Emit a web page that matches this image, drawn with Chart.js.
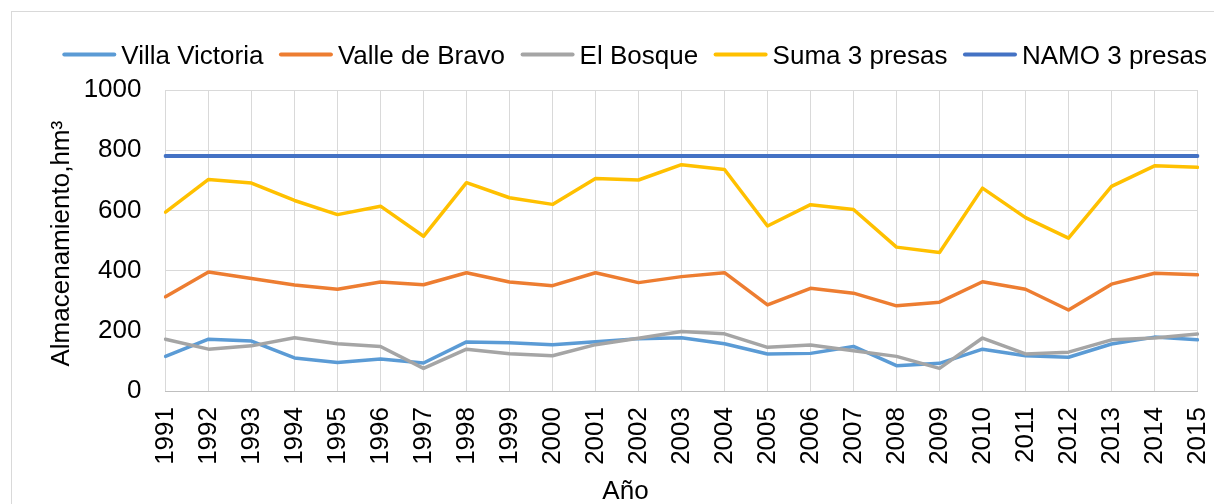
<!DOCTYPE html>
<html>
<head>
<meta charset="utf-8">
<script src="https://cdn.jsdelivr.net/npm/chart.js@4.4.1/dist/chart.umd.min.js"></script>
<style>
  html, body { margin: 0; padding: 0; background: #fff; }
  canvas { display: block; }
</style>
</head>
<body>
<canvas id="chartStorage" width="1214" height="504"></canvas>
<script>
const years = ['1991', '1992', '1993', '1994', '1995', '1996', '1997', '1998', '1999', '2000',
  '2001', '2002', '2003', '2004', '2005', '2006', '2007', '2008', '2009', '2010',
  '2011', '2012', '2013', '2014', '2015'];

const villaVictoria = [115, 172, 166, 110, 95, 106, 93, 163, 160, 154, 164, 174, 177, 157, 123, 125, 148, 84, 92, 139, 117, 112, 156, 179, 170];
const valleDeBravo = [313, 395, 374, 352, 338, 362, 353, 393, 362, 350, 393, 360, 380, 393, 286, 341, 325, 283, 295, 363, 338, 269, 355, 391, 386];
const elBosque = [172, 139, 150, 177, 157, 148, 75, 139, 124, 117, 154, 175, 198, 190, 145, 153, 134, 115, 75, 176, 123, 129, 170, 176, 189];
const suma3Presas = [594, 703, 691, 633, 586, 614, 514, 692, 642, 620, 706, 701, 752, 736, 548, 619, 603, 478, 460, 674, 576, 508, 680, 748, 743];
const namo3Presas = [781, 781, 781, 781, 781, 781, 781, 781, 781, 781, 781, 781, 781, 781, 781, 781, 781, 781, 781, 781, 781, 781, 781, 781, 781];

const yTicks = [0, 200, 400, 600, 800, 1000];
const xTitle = 'Año';
const yTitle = 'Almacenamiento,hm³';

const FONT = '"Liberation Sans", Arial, sans-serif';

// background, outer frame, legend and axis titles
const extras = {
  id: 'extras',
  beforeDraw(chart) {
    const ctx = chart.ctx;
    ctx.save();
    ctx.fillStyle = '#ffffff';
    ctx.fillRect(0, 0, chart.width, chart.height);
    ctx.strokeStyle = '#d9d9d9';
    ctx.lineWidth = 1;
    ctx.strokeRect(11.5, 11.5, chart.width + 40, chart.height + 40);
    ctx.restore();
  },
  afterDraw(chart) {
    const ctx = chart.ctx;
    ctx.save();
    ctx.font = '26px ' + FONT;
    ctx.fillStyle = '#000000';
    ctx.textBaseline = 'alphabetic';
    ctx.textAlign = 'left';

    let x = 62.3;
    chart.data.datasets.forEach(ds => {
      ctx.strokeStyle = ds.borderColor;
      ctx.lineWidth = 4;
      ctx.lineCap = 'round';
      ctx.beginPath();
      ctx.moveTo(x + 2, 54.5);
      ctx.lineTo(x + 52, 54.5);
      ctx.stroke();
      ctx.fillText(ds.label, x + 59, 63.5);
      x += 59 + ctx.measureText(ds.label).width + 15.5;
    });

    ctx.textAlign = 'center';
    ctx.fillText(xTitle, 625.5, 499);

    ctx.translate(68.5, 366.5);
    ctx.rotate(-Math.PI / 2);
    ctx.textAlign = 'left';
    ctx.fillText(yTitle, 0, 0);
    ctx.restore();
  }
};

function lineSet(label, data, color, width, order) {
  return {
    label: label,
    data: data,
    borderColor: color,
    backgroundColor: color,
    borderWidth: width,
    borderCapStyle: 'round',
    borderJoinStyle: 'round',
    pointRadius: 0,
    pointHoverRadius: 0,
    tension: 0,
    fill: false,
    order: order
  };
}

const ctxStorage = document.getElementById('chartStorage').getContext('2d');
const chart = new Chart(ctxStorage, {
  type: 'line',
  data: {
    labels: years,
    datasets: [
      lineSet('Villa Victoria', villaVictoria, '#5B9BD5', 3.5, 5),
      lineSet('Valle de Bravo', valleDeBravo, '#ED7D31', 3.5, 4),
      lineSet('El Bosque', elBosque, '#A5A5A5', 3.5, 3),
      lineSet('Suma 3 presas', suma3Presas, '#FFC000', 3.5, 2),
      lineSet('NAMO 3 presas', namo3Presas, '#4472C4', 4, 1)
    ]
  },
  options: {
    responsive: false,
    animation: false,
    devicePixelRatio: 1,
    layout: { padding: { top: 90, right: 16.5, left: 0, bottom: 0 } },
    plugins: {
      legend: { display: false },
      tooltip: { enabled: false }
    },
    scales: {
      x: {
        type: 'category',
        offset: false,
        afterFit: scale => {
          scale.height = 113;
          scale.paddingLeft = 0;
          scale.paddingRight = 0;
        },
        grid: { color: '#d9d9d9', lineWidth: 1, drawTicks: false, offset: false },
        border: { display: true, color: '#bfbfbf', width: 1 },
        ticks: {
          color: '#000000',
          font: { family: FONT, size: 26 },
          minRotation: 90,
          maxRotation: 90,
          autoSkip: false,
          padding: 16
        }
      },
      y: {
        min: 0,
        max: 1000,
        afterFit: scale => {
          scale.width = 165.5;
          scale.paddingTop = 0;
          scale.paddingBottom = 0;
        },
        afterBuildTicks: scale => { scale.ticks = yTicks.map(v => ({ value: v })); },
        grid: { color: '#d9d9d9', lineWidth: 1, drawTicks: false },
        border: { display: false },
        ticks: {
          color: '#000000',
          font: { family: FONT, size: 26 },
          padding: 24,
          callback: value => String(value)
        }
      }
    }
  },
  plugins: [extras]
});
</script>
</body>
</html>
